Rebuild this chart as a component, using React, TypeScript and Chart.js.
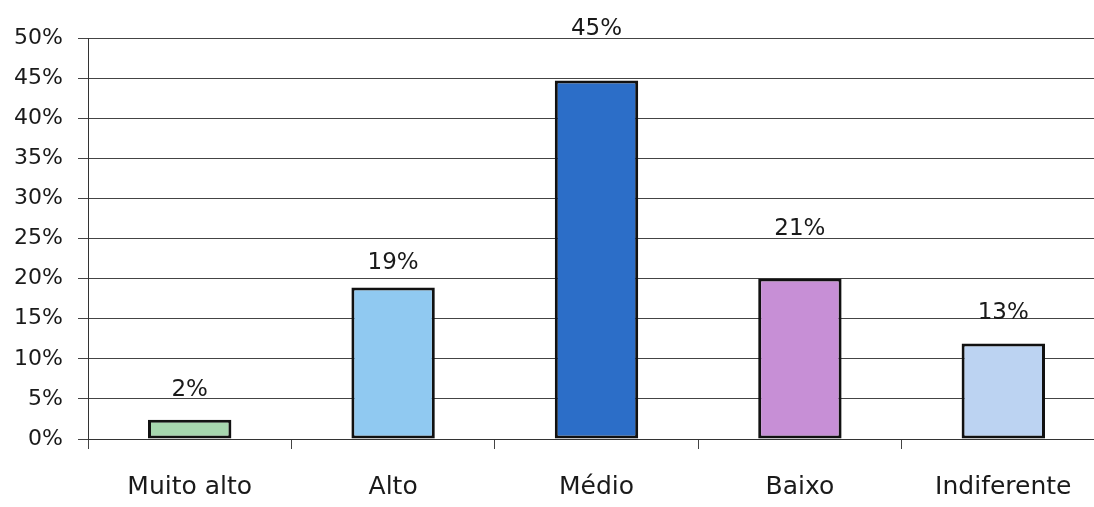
import React, { useEffect, useRef } from "react";
import { Chart, registerables } from "chart.js";

Chart.register(...registerables);

const categories = ["Muito alto", "Alto", "Médio", "Baixo", "Indiferente"];
const barValues = [2.4, 18.9, 44.7, 20.0, 11.9];
const valueLabels = ["2%", "19%", "45%", "21%", "13%"];
const barColors = ["#a6d6ae", "#90c9f1", "#2c6ec8", "#c78fd6", "#bcd3f2"];
const yTicks = [0, 5, 10, 15, 20, 25, 30, 35, 40, 45, 50];

const labelLift = [30, 24, 51, 50, 31];
const FONT = "'DejaVu Sans', sans-serif";

const valueLabelPlugin = {
  id: "valueLabels",
  afterDatasetsDraw(chart: any) {
    const ctx = chart.ctx;
    const meta = chart.getDatasetMeta(0);
    ctx.save();
    ctx.font = `23px ${FONT}`;
    ctx.fillStyle = "#1a1a1a";
    ctx.textAlign = "center";
    ctx.textBaseline = "middle";
    meta.data.forEach((bar: any, i: number) => {
      ctx.fillText(valueLabels[i], bar.x, bar.y - labelLift[i]);
    });
    ctx.restore();
  },
};

export default function App() {
  const ref = useRef<HTMLCanvasElement>(null);
  useEffect(() => {
    if (!ref.current) return;
    const chart = new Chart(ref.current, {
      type: "bar",
      data: {
        labels: categories,
        datasets: [
          {
            data: barValues,
            backgroundColor: barColors,
            borderColor: "#111",
            borderWidth: 3,
            borderSkipped: false,
            categoryPercentage: 1,
            barPercentage: 0.41,
          },
        ],
      },
      options: {
        animation: false,
        responsive: false,
        maintainAspectRatio: false,
        layout: { padding: { top: 38, right: 5, left: 0, bottom: 0 } },
        plugins: {
          legend: { display: false },
          tooltip: { enabled: false },
        },
        scales: {
          x: {
            grid: {
              display: true,
              offset: true,
              drawOnChartArea: false,
              drawTicks: true,
              tickLength: 10,
              color: "#444",
            },
            border: { color: "#333", width: 1 },
            ticks: {
              color: "#1a1a1a",
              font: { family: FONT, size: 25 },
              padding: 23,
              maxRotation: 0,
            },
            afterFit(scale: any) {
              scale.height = 68;
            },
          },
          y: {
            min: 0,
            max: 50,
            afterBuildTicks(scale: any) {
              scale.ticks = yTicks.map((v) => ({ value: v }));
            },
            grid: {
              color: "#444",
              lineWidth: 1,
              tickLength: 10,
            },
            border: { color: "#333", width: 1 },
            ticks: {
              color: "#1a1a1a",
              font: { family: FONT, size: 22 },
              padding: 15,
              callback: (v: any) => `${v}%`,
            },
            afterFit(scale: any) {
              scale.width = 88;
            },
          },
        },
      },
      plugins: [valueLabelPlugin],
    });
    return () => chart.destroy();
  }, []);
  return (
    <div
      style={{
        position: "fixed",
        left: 0,
        top: 0,
        width: 1094,
        height: 507,
        overflow: "hidden",
        background: "#fff",
      }}
    >
      <canvas ref={ref} width={1110} height={507} style={{ width: 1110, height: 507 }} />
    </div>
  );
}
